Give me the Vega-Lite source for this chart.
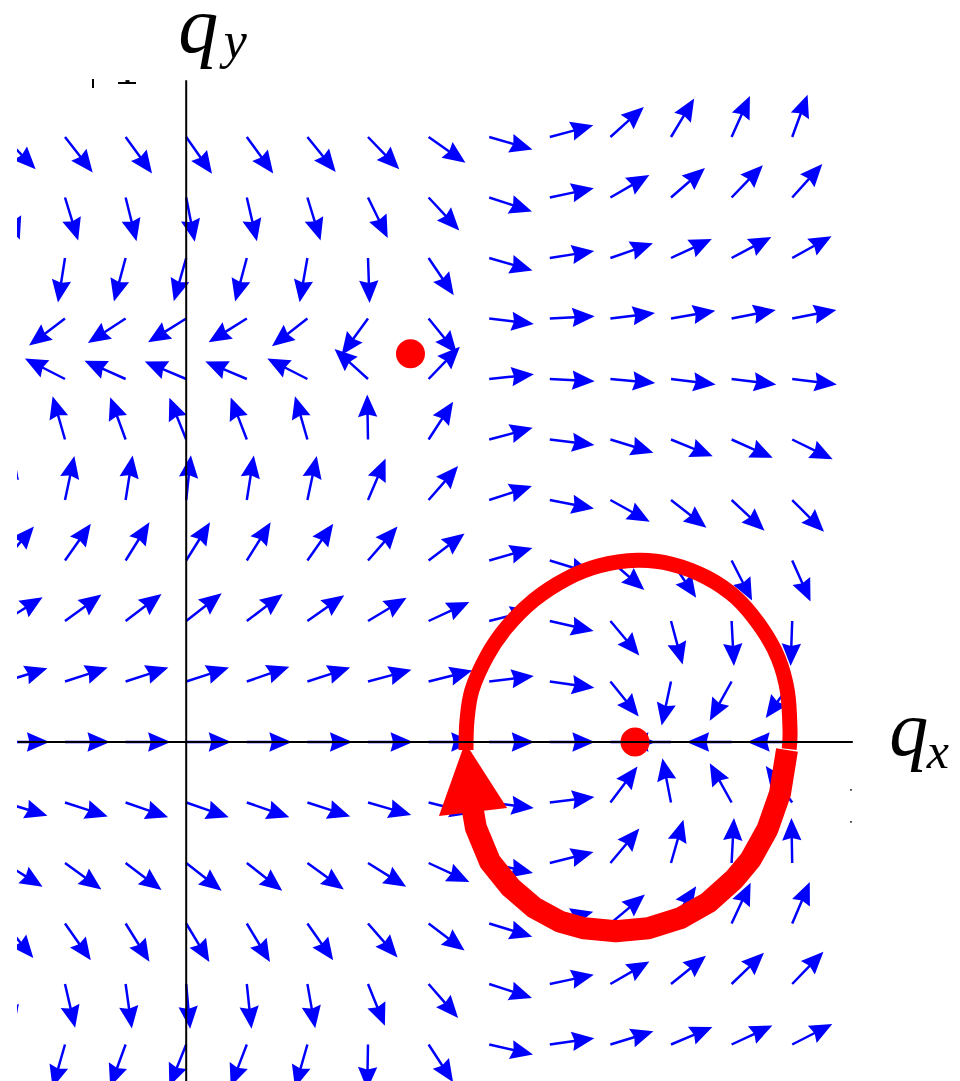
{
  "$schema": "https://vega.github.io/schema/vega-lite/v6.json",
  "width": 943,
  "height": 1081,
  "autosize": "none",
  "padding": {"left": 17, "top": 0, "right": 0, "bottom": 0},
  "background": "white",
  "config": {"view": {"stroke": null}},
  "datasets": {
    "field": [
      {"qx":-3,"qy":10,"dir":136},{"qx":-2,"qy":10,"dir":142},{"qx":-1,"qy":10,"dir":144},{"qx":0,"qy":10,"dir":145},{"qx":1,"qy":10,"dir":144},{"qx":2,"qy":10,"dir":141},{"qx":3,"qy":10,"dir":136},{"qx":4,"qy":10,"dir":125},{"qx":5,"qy":10,"dir":106},{"qx":6,"qy":10,"dir":75},{"qx":7,"qy":10,"dir":48},{"qx":8,"qy":10,"dir":31},{"qx":9,"qy":10,"dir":24},{"qx":10,"qy":10,"dir":20},
      {"qx":-3,"qy":9,"dir":160},{"qx":-2,"qy":9,"dir":163},{"qx":-1,"qy":9,"dir":166},{"qx":0,"qy":9,"dir":169},{"qx":1,"qy":9,"dir":167},{"qx":2,"qy":9,"dir":163},{"qx":3,"qy":9,"dir":154},{"qx":4,"qy":9,"dir":137},{"qx":5,"qy":9,"dir":108},{"qx":6,"qy":9,"dir":78},{"qx":7,"qy":9,"dir":60},{"qx":8,"qy":9,"dir":49},{"qx":9,"qy":9,"dir":44},{"qx":10,"qy":9,"dir":42},
      {"qx":-3,"qy":8,"dir":186},{"qx":-2,"qy":8,"dir":189},{"qx":-1,"qy":8,"dir":195},{"qx":0,"qy":8,"dir":196},{"qx":1,"qy":8,"dir":195},{"qx":2,"qy":8,"dir":190},{"qx":3,"qy":8,"dir":178},{"qx":4,"qy":8,"dir":146},{"qx":5,"qy":8,"dir":106},{"qx":6,"qy":8,"dir":81},{"qx":7,"qy":8,"dir":71},{"qx":8,"qy":8,"dir":65},{"qx":9,"qy":8,"dir":62},{"qx":10,"qy":8,"dir":61},
      {"qx":-3,"qy":7,"dir":232},{"qx":-2,"qy":7,"dir":233},{"qx":-1,"qy":7,"dir":237},{"qx":0,"qy":7,"dir":238},{"qx":1,"qy":7,"dir":238},{"qx":2,"qy":7,"dir":232},{"qx":3,"qy":7,"dir":216},{"qx":4,"qy":7,"dir":141},{"qx":5,"qy":7,"dir":97},{"qx":6,"qy":7,"dir":87},{"qx":7,"qy":7,"dir":83},{"qx":8,"qy":7,"dir":80},{"qx":9,"qy":7,"dir":79},{"qx":10,"qy":7,"dir":79},
      {"qx":-3,"qy":6,"dir":297},{"qx":-2,"qy":6,"dir":297},{"qx":-1,"qy":6,"dir":294},{"qx":0,"qy":6,"dir":293},{"qx":1,"qy":6,"dir":293},{"qx":2,"qy":6,"dir":297},{"qx":3,"qy":6,"dir":312},{"qx":4,"qy":6,"dir":44},{"qx":5,"qy":6,"dir":84},{"qx":6,"qy":6,"dir":93},{"qx":7,"qy":6,"dir":95},{"qx":8,"qy":6,"dir":97},{"qx":9,"qy":6,"dir":97},{"qx":10,"qy":6,"dir":97},
      {"qx":-3,"qy":5,"dir":344},{"qx":-2,"qy":5,"dir":344},{"qx":-1,"qy":5,"dir":340},{"qx":0,"qy":5,"dir":338},{"qx":1,"qy":5,"dir":339},{"qx":2,"qy":5,"dir":344},{"qx":3,"qy":5,"dir":359},{"qx":4,"qy":5,"dir":33},{"qx":5,"qy":5,"dir":75},{"qx":6,"qy":5,"dir":97},{"qx":7,"qy":5,"dir":107},{"qx":8,"qy":5,"dir":112},{"qx":9,"qy":5,"dir":114},{"qx":10,"qy":5,"dir":116},
      {"qx":-3,"qy":4,"dir":13},{"qx":-2,"qy":4,"dir":12},{"qx":-1,"qy":4,"dir":9},{"qx":0,"qy":4,"dir":6},{"qx":1,"qy":4,"dir":9},{"qx":2,"qy":4,"dir":12},{"qx":3,"qy":4,"dir":23},{"qx":4,"qy":4,"dir":41},{"qx":5,"qy":4,"dir":72},{"qx":6,"qy":4,"dir":101},{"qx":7,"qy":4,"dir":119},{"qx":8,"qy":4,"dir":128},{"qx":9,"qy":4,"dir":133},{"qx":10,"qy":4,"dir":135},
      {"qx":-3,"qy":3,"dir":41},{"qx":-2,"qy":3,"dir":35},{"qx":-1,"qy":3,"dir":32},{"qx":0,"qy":3,"dir":32},{"qx":1,"qy":3,"dir":32},{"qx":2,"qy":3,"dir":35},{"qx":3,"qy":3,"dir":41},{"qx":4,"qy":3,"dir":53},{"qx":5,"qy":3,"dir":74},{"qx":6,"qy":3,"dir":107},{"qx":7,"qy":3,"dir":131},{"qx":8,"qy":3,"dir":146},{"qx":9,"qy":3,"dir":153},{"qx":10,"qy":3,"dir":156},
      {"qx":-3,"qy":2,"dir":58},{"qx":-2,"qy":2,"dir":54},{"qx":-1,"qy":2,"dir":53},{"qx":0,"qy":2,"dir":52},{"qx":1,"qy":2,"dir":53},{"qx":2,"qy":2,"dir":55},{"qx":3,"qy":2,"dir":59},{"qx":4,"qy":2,"dir":65},{"qx":5,"qy":2,"dir":76},{"qx":6,"qy":2,"dir":103},{"qx":7,"qy":2,"dir":140},{"qx":8,"qy":2,"dir":165},{"qx":9,"qy":2,"dir":177},{"qx":10,"qy":2,"dir":182},
      {"qx":-3,"qy":1,"dir":73},{"qx":-2,"qy":1,"dir":72},{"qx":-1,"qy":1,"dir":72},{"qx":0,"qy":1,"dir":72},{"qx":1,"qy":1,"dir":71},{"qx":2,"qy":1,"dir":72},{"qx":3,"qy":1,"dir":75},{"qx":4,"qy":1,"dir":76},{"qx":5,"qy":1,"dir":83},{"qx":6,"qy":1,"dir":98},{"qx":7,"qy":1,"dir":141},{"qx":8,"qy":1,"dir":192},{"qx":9,"qy":1,"dir":209},{"qx":10,"qy":1,"dir":216},
      {"qx":-3,"qy":0,"dir":90},{"qx":-2,"qy":0,"dir":90},{"qx":-1,"qy":0,"dir":90},{"qx":0,"qy":0,"dir":90},{"qx":1,"qy":0,"dir":90},{"qx":2,"qy":0,"dir":90},{"qx":3,"qy":0,"dir":90},{"qx":4,"qy":0,"dir":90},{"qx":5,"qy":0,"dir":90},{"qx":6,"qy":0,"dir":90},{"qx":7,"qy":0,"dir":90},{"qx":8,"qy":0,"dir":270},{"qx":9,"qy":0,"dir":270},{"qx":10,"qy":0,"dir":270},
      {"qx":-3,"qy":-1,"dir":107},{"qx":-2,"qy":-1,"dir":108},{"qx":-1,"qy":-1,"dir":109},{"qx":0,"qy":-1,"dir":109},{"qx":1,"qy":-1,"dir":109},{"qx":2,"qy":-1,"dir":108},{"qx":3,"qy":-1,"dir":106},{"qx":4,"qy":-1,"dir":104},{"qx":5,"qy":-1,"dir":97},{"qx":6,"qy":-1,"dir":83},{"qx":7,"qy":-1,"dir":37},{"qx":8,"qy":-1,"dir":349},{"qx":9,"qy":-1,"dir":331},{"qx":10,"qy":-1,"dir":324},
      {"qx":-3,"qy":-2,"dir":122},{"qx":-2,"qy":-2,"dir":126},{"qx":-1,"qy":-2,"dir":127},{"qx":0,"qy":-2,"dir":128},{"qx":1,"qy":-2,"dir":128},{"qx":2,"qy":-2,"dir":126},{"qx":3,"qy":-2,"dir":122},{"qx":4,"qy":-2,"dir":115},{"qx":5,"qy":-2,"dir":103},{"qx":6,"qy":-2,"dir":76},{"qx":7,"qy":-2,"dir":40},{"qx":8,"qy":-2,"dir":16},{"qx":9,"qy":-2,"dir":3},{"qx":10,"qy":-2,"dir":359},
      {"qx":-3,"qy":-3,"dir":140},{"qx":-2,"qy":-3,"dir":145},{"qx":-1,"qy":-3,"dir":148},{"qx":0,"qy":-3,"dir":149},{"qx":1,"qy":-3,"dir":149},{"qx":2,"qy":-3,"dir":145},{"qx":3,"qy":-3,"dir":139},{"qx":4,"qy":-3,"dir":127},{"qx":5,"qy":-3,"dir":107},{"qx":6,"qy":-3,"dir":75},{"qx":7,"qy":-3,"dir":50},{"qx":8,"qy":-3,"dir":34},{"qx":9,"qy":-3,"dir":25},{"qx":10,"qy":-3,"dir":23},
      {"qx":-3,"qy":-4,"dir":167},{"qx":-2,"qy":-4,"dir":167},{"qx":-1,"qy":-4,"dir":172},{"qx":0,"qy":-4,"dir":175},{"qx":1,"qy":-4,"dir":174},{"qx":2,"qy":-4,"dir":170},{"qx":3,"qy":-4,"dir":158},{"qx":4,"qy":-4,"dir":139},{"qx":5,"qy":-4,"dir":108},{"qx":6,"qy":-4,"dir":78},{"qx":7,"qy":-4,"dir":60},{"qx":8,"qy":-4,"dir":51},{"qx":9,"qy":-4,"dir":46},{"qx":10,"qy":-4,"dir":44},
      {"qx":-3,"qy":-5,"dir":196},{"qx":-2,"qy":-5,"dir":196},{"qx":-1,"qy":-5,"dir":200},{"qx":0,"qy":-5,"dir":202},{"qx":1,"qy":-5,"dir":201},{"qx":2,"qy":-5,"dir":196},{"qx":3,"qy":-5,"dir":181},{"qx":4,"qy":-5,"dir":147},{"qx":5,"qy":-5,"dir":103},{"qx":6,"qy":-5,"dir":82},{"qx":7,"qy":-5,"dir":73},{"qx":8,"qy":-5,"dir":67},{"qx":9,"qy":-5,"dir":65},{"qx":10,"qy":-5,"dir":63}
    ],
    "loopThin": [
      {"k":1,"qx":4.617,"qy":-0.132},{"k":2,"qx":4.634,"qy":0.364},{"k":3,"qx":4.716,"qy":0.860},{"k":4,"qx":4.963,"qy":1.421},{"k":5,"qx":5.277,"qy":1.884},{"k":6,"qx":5.739,"qy":2.347},{"k":7,"qx":6.267,"qy":2.694},{"k":8,"qx":6.802,"qy":2.909},{"k":9,"qx":7.447,"qy":3.003},{"k":10,"qx":8.012,"qy":2.939},{"k":11,"qx":8.589,"qy":2.719},{"k":12,"qx":9.084,"qy":2.375},{"k":13,"qx":9.497,"qy":1.879},{"k":14,"qx":9.771,"qy":1.383},{"k":15,"qx":9.922,"qy":0.831},{"k":16,"qx":9.964,"qy":0.198},{"k":17,"qx":9.950,"qy":-0.118}
    ],
    "loopThick": [
      {"k":1,"qx":9.914,"qy":-0.134},{"k":2,"qx":9.799,"qy":-0.848},{"k":3,"qx":9.592,"qy":-1.441},{"k":4,"qx":9.317,"qy":-1.937},{"k":5,"qx":9.043,"qy":-2.268},{"k":6,"qx":8.615,"qy":-2.653},{"k":7,"qx":8.149,"qy":-2.914},{"k":8,"qx":7.625,"qy":-3.079},{"k":9,"qx":7.089,"qy":-3.129},{"k":10,"qx":6.568,"qy":-3.079},{"k":11,"qx":6.168,"qy":-2.970},{"k":12,"qx":5.743,"qy":-2.736},{"k":13,"qx":5.356,"qy":-2.405},{"k":14,"qx":5.013,"qy":-1.979},{"k":15,"qx":4.779,"qy":-1.413},{"k":16,"qx":4.716,"qy":-1.041}
    ],
    "fixedPoints": [
      {"qx":3.701,"qy":6.418},{"qx":7.406,"qy":0.0}
    ],
    "specks": [
      {"qx":10.970,"qy":-0.793},{"qx":10.970,"qy":-1.322}
    ]
  },
  "layer": [
    {
      "data": {"name": "field"},
      "mark": {
        "type": "point",
        "shape": "M-0.055,0L-0.055,-1.1L-0.43,-1.0L0,-2L0.43,-1.0L0.055,-1.1L0.055,0Z",
        "filled": true,
        "fill": "#0000ff",
        "strokeWidth": 0,
        "opacity": 1,
        "size": 2025,
        "clip": true
      },
      "encoding": {
        "x": {"field": "qx", "type": "quantitative", "scale": {"domain": [-2.7921, 12.769], "nice": false, "zero": false}, "axis": null},
        "y": {"field": "qy", "type": "quantitative", "scale": {"domain": [-5.6033, 12.2645], "nice": false, "zero": false}, "axis": null},
        "angle": {"field": "dir", "type": "quantitative", "scale": {"domain": [0, 360], "range": [0, 360]}, "legend": null}
      }
    },
    {
      "data": {"name": "loopThin"},
      "mark": {"type": "line", "color": "#ff0000", "strokeWidth": 15, "strokeCap": "butt", "strokeJoin": "round", "interpolate": "cardinal"},
      "encoding": {
        "x": {"field": "qx", "type": "quantitative"},
        "y": {"field": "qy", "type": "quantitative"},
        "order": {"field": "k", "type": "quantitative"}
      }
    },
    {
      "data": {"name": "loopThick"},
      "mark": {"type": "line", "color": "#ff0000", "strokeWidth": 22, "strokeCap": "butt", "strokeJoin": "round"},
      "encoding": {
        "x": {"field": "qx", "type": "quantitative"},
        "y": {"field": "qy", "type": "quantitative"},
        "order": {"field": "k", "type": "quantitative"}
      }
    },
    {
      "data": {"values": [{}]},
      "mark": {"type": "point", "shape": "M0,-2L0.98,0L-0.98,0Z", "filled": true, "fill": "#ff0000", "strokeWidth": 0, "opacity": 1, "size": 4900, "angle": 353.5},
      "encoding": {
        "x": {"datum": 4.733, "type": "quantitative"},
        "y": {"datum": -1.157, "type": "quantitative"}
      }
    },
    {
      "data": {"name": "fixedPoints"},
      "mark": {"type": "point", "shape": "circle", "filled": true, "fill": "#ff0000", "strokeWidth": 0, "opacity": 1, "size": 841},
      "encoding": {
        "x": {"field": "qx", "type": "quantitative"},
        "y": {"field": "qy", "type": "quantitative"}
      }
    },
    {
      "data": {"values": [{}]},
      "mark": {"type": "rule", "color": "#000000", "strokeWidth": 2},
      "encoding": {
        "x": {"datum": 0, "type": "quantitative"},
        "y": {"datum": 10.94, "type": "quantitative"},
        "y2": {"datum": -5.7}
      }
    },
    {
      "data": {"values": [{}]},
      "mark": {"type": "rule", "color": "#000000", "strokeWidth": 2},
      "encoding": {
        "y": {"datum": 0, "type": "quantitative"},
        "x": {"datum": -2.776, "type": "quantitative"},
        "x2": {"datum": 11.0}
      }
    },
    {
      "data": {"values": [{}]},
      "mark": {"type": "rule", "color": "#000000", "strokeWidth": 2},
      "encoding": {
        "x": {"datum": -1.538, "type": "quantitative"},
        "y": {"datum": 10.959, "type": "quantitative"},
        "y2": {"datum": 10.81}
      }
    },
    {
      "data": {"values": [{}]},
      "mark": {"type": "rule", "color": "#000000", "strokeWidth": 2},
      "encoding": {
        "y": {"datum": 10.893, "type": "quantitative"},
        "x": {"datum": -1.125, "type": "quantitative"},
        "x2": {"datum": -0.828}
      }
    },
    {
      "data": {"values": [{}]},
      "mark": {"type": "rule", "color": "#000000", "strokeWidth": 4},
      "encoding": {
        "x": {"datum": -0.969, "type": "quantitative"},
        "y": {"datum": 10.94, "type": "quantitative"},
        "y2": {"datum": 10.893}
      }
    },
    {
      "data": {"name": "specks"},
      "mark": {"type": "point", "shape": "square", "filled": true, "fill": "#000000", "strokeWidth": 0, "opacity": 0.8, "size": 3},
      "encoding": {
        "x": {"field": "qx", "type": "quantitative"},
        "y": {"field": "qy", "type": "quantitative"}
      }
    },
    {
      "data": {"values": [{}]},
      "mark": {"type": "text", "text": "q", "font": "Liberation Serif", "fontStyle": "italic", "fontSize": 80, "align": "left", "baseline": "alphabetic", "color": "#000000"},
      "encoding": {
        "x": {"datum": -0.13, "type": "quantitative"},
        "y": {"datum": 11.4, "type": "quantitative"}
      }
    },
    {
      "data": {"values": [{}]},
      "mark": {"type": "text", "text": "y", "font": "Liberation Serif", "fontStyle": "italic", "fontSize": 52, "align": "left", "baseline": "alphabetic", "color": "#000000"},
      "encoding": {
        "x": {"datum": 0.62, "type": "quantitative"},
        "y": {"datum": 11.3, "type": "quantitative"}
      }
    },
    {
      "data": {"values": [{}]},
      "mark": {"type": "text", "text": "q", "font": "Liberation Serif", "fontStyle": "italic", "fontSize": 78, "align": "left", "baseline": "alphabetic", "color": "#000000"},
      "encoding": {
        "x": {"datum": 11.6, "type": "quantitative"},
        "y": {"datum": -0.215, "type": "quantitative"}
      }
    },
    {
      "data": {"values": [{}]},
      "mark": {"type": "text", "text": "x", "font": "Liberation Serif", "fontStyle": "italic", "fontSize": 50, "align": "left", "baseline": "alphabetic", "color": "#000000"},
      "encoding": {
        "x": {"datum": 12.22, "type": "quantitative"},
        "y": {"datum": -0.43, "type": "quantitative"}
      }
    }
  ]
}
